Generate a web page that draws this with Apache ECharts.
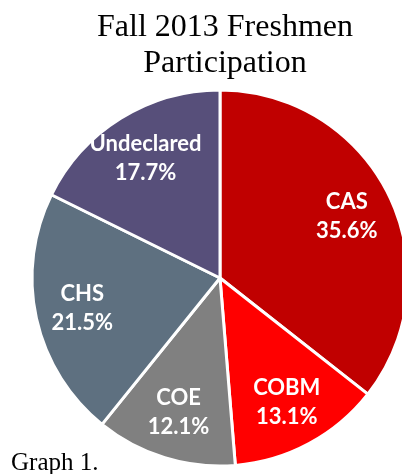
<!DOCTYPE html>
<html>
<head>
<meta charset="utf-8">
<script src="https://cdn.jsdelivr.net/npm/echarts@6/dist/echarts.min.js"></script>
<style>
html,body{margin:0;padding:0;background:#fff;}
#chart{width:402px;height:474px;}
</style>
</head>
<body>
<div id="chart"></div>
<script>
const categories = ['CAS', 'COBM', 'COE', 'CHS', 'Undeclared'];
const values = [35.6, 13.1, 12.1, 21.5, 17.7];
const colors = ['#C00000', '#FF0000', '#808080', '#5E7080', '#574F7A'];
const titleText = 'Fall 2013 Freshmen\nParticipation';
const footText = 'Graph 1.';

const chart = echarts.init(document.getElementById('chart'), null, {renderer: 'canvas'});
const pieData = categories.map((c, i) => ({name: c, value: values[i], itemStyle: {color: colors[i]}}));
const labelData = categories.map((c, i) => ({name: c, value: values[i]}));

chart.setOption({
  backgroundColor: '#ffffff',
  animation: false,
  title: [
    {text: titleText, left: 220, top: 5, textAlign: 'center',
     textStyle: {fontFamily: 'Liberation Serif', fontWeight: 'normal', fontSize: 32, lineHeight: 36, color: '#000'}},
    {text: footText, left: 6, top: 446,
     textStyle: {fontFamily: 'Liberation Serif', fontWeight: 'normal', fontSize: 25, lineHeight: 25, color: '#000'}}
  ],
  series: [
    {
      type: 'pie', center: [220, 278], radius: 188, startAngle: 90, clockwise: true,
      data: pieData, silent: true,
      label: {show: false}, labelLine: {show: false},
      itemStyle: {borderColor: '#ffffff', borderWidth: 3}
    },
    {
      type: 'pie', center: [220, 278], radius: [95, 181], startAngle: 90, clockwise: true,
      data: labelData, silent: true, z: 5,
      itemStyle: {color: 'rgba(0,0,0,0)', borderWidth: 0},
      labelLine: {show: false},
      label: {
        show: true, position: 'inside',
        formatter: p => p.name + '\n' + p.value.toFixed(1) + '%',
        color: '#ffffff', fontFamily: 'Lato', fontWeight: 'bold', fontSize: 22, lineHeight: 29
      }
    }
  ]
});
</script>
</body>
</html>
